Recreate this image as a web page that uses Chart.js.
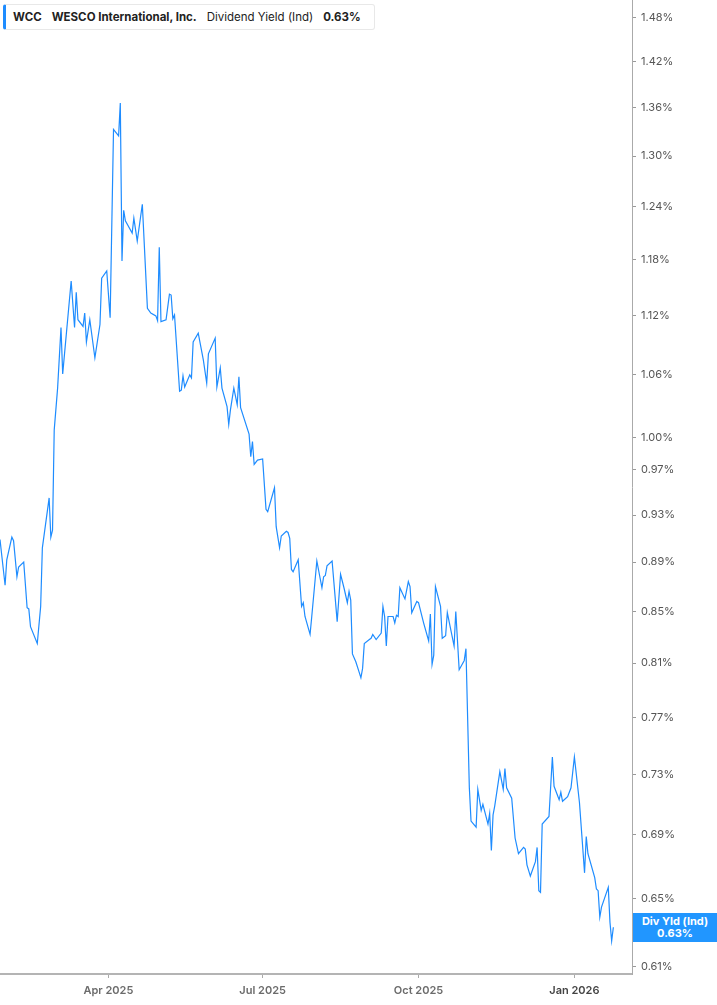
<!DOCTYPE html>
<html>
<head>
<meta charset="utf-8">
<script src="https://cdn.jsdelivr.net/npm/chart.js@4.4.1/dist/chart.umd.min.js"></script>
<style>
  html, body { margin: 0; padding: 0; background: #ffffff; }
  #wrap { position: relative; width: 717px; height: 1005px; }
  #legendBox {
    position: absolute; left: 3px; top: 4px; height: 26px; width: 372px;
    border: 1px solid #e8e8e8; border-left: 3px solid #1e8cff; border-radius: 3px;
    background: #fff; font-family: Inter, "Noto Sans", sans-serif; font-size: 11.5px;
    color: #222; display: flex; align-items: center; padding-left: 7px; box-sizing: border-box;
    white-space: nowrap;
  }
  #legendBox span { margin-right: 10px; }
  #legendBox .b { font-weight: 700; }
  #endLabel {
    position: absolute; left: 633px; width: 84px; height: 29px;
    background: #2196ff; color: #fff; font-family: Inter, "Noto Sans", sans-serif;
    font-size: 11px; font-weight: 700; text-align: center; line-height: 12px;
    display: flex; flex-direction: column; justify-content: center;
  }
</style>
</head>
<body>
<div id="wrap">
  <canvas id="c" width="717" height="1005"></canvas>
  <div id="legendBox"></div>
  <div id="endLabel"></div>
</div>
<script>
// ---- data ----
const ticker = 'WCC';
const companyName = 'WESCO International, Inc.';
const metricName = 'Dividend Yield (Ind)';
const endLabelName = 'Div Yld (Ind)';

const dates = [
  '2025-01-27','2025-01-30','2025-01-31','2025-02-03','2025-02-04','2025-02-06','2025-02-07','2025-02-10',
  '2025-02-12','2025-02-13','2025-02-14','2025-02-18','2025-02-20','2025-02-21','2025-02-25','2025-02-26',
  '2025-02-27','2025-02-28','2025-03-02','2025-03-04','2025-03-05','2025-03-10','2025-03-12','2025-03-13',
  '2025-03-14','2025-03-17','2025-03-18','2025-03-19','2025-03-21','2025-03-24','2025-03-27','2025-03-28',
  '2025-03-31','2025-04-02','2025-04-04','2025-04-07','2025-04-08','2025-04-09','2025-04-10','2025-04-11',
  '2025-04-15','2025-04-16','2025-04-18','2025-04-21','2025-04-24','2025-04-26','2025-04-29','2025-04-30',
  '2025-05-01','2025-05-02','2025-05-05','2025-05-07','2025-05-08','2025-05-09','2025-05-10','2025-05-13',
  '2025-05-14','2025-05-15','2025-05-16','2025-05-19','2025-05-20','2025-05-21','2025-05-24','2025-05-27',
  '2025-05-29','2025-05-30','2025-06-03','2025-06-04','2025-06-06','2025-06-07','2025-06-10','2025-06-11',
  '2025-06-12','2025-06-14','2025-06-16','2025-06-17','2025-06-18','2025-06-23','2025-06-24','2025-06-25',
  '2025-06-26','2025-06-28','2025-07-01','2025-07-03','2025-07-04','2025-07-08','2025-07-09','2025-07-11',
  '2025-07-12','2025-07-15','2025-07-16','2025-07-17','2025-07-18','2025-07-19','2025-07-22','2025-07-24',
  '2025-07-25','2025-07-26','2025-07-29','2025-07-30','2025-08-02','2025-08-05','2025-08-06','2025-08-07',
  '2025-08-08','2025-08-11','2025-08-14','2025-08-16','2025-08-18','2025-08-20','2025-08-21','2025-08-22',
  '2025-08-23','2025-08-25','2025-08-27','2025-08-28','2025-08-29','2025-08-30','2025-09-02','2025-09-03',
  '2025-09-04','2025-09-06','2025-09-09','2025-09-10','2025-09-11','2025-09-12','2025-09-13','2025-09-16',
  '2025-09-17','2025-09-18','2025-09-19','2025-09-20','2025-09-23','2025-09-25','2025-09-26','2025-09-27',
  '2025-09-30','2025-10-01','2025-10-04','2025-10-07','2025-10-08','2025-10-09','2025-10-10','2025-10-11',
  '2025-10-14','2025-10-15','2025-10-17','2025-10-18','2025-10-22','2025-10-23','2025-10-25','2025-10-28',
  '2025-10-29','2025-10-31','2025-11-01','2025-11-04','2025-11-05','2025-11-07','2025-11-08','2025-11-11',
  '2025-11-12','2025-11-13','2025-11-14','2025-11-15','2025-11-18','2025-11-20','2025-11-21','2025-11-22',
  '2025-11-25','2025-11-27','2025-11-29','2025-12-02','2025-12-03','2025-12-04','2025-12-06','2025-12-09',
  '2025-12-10','2025-12-11','2025-12-12','2025-12-13','2025-12-17','2025-12-19','2025-12-20','2025-12-23',
  '2025-12-24','2025-12-25','2025-12-28','2025-12-30','2026-01-01','2026-01-04','2026-01-07','2026-01-08',
  '2026-01-09','2026-01-13','2026-01-14','2026-01-15','2026-01-16','2026-01-17','2026-01-21','2026-01-22',
  '2026-01-23','2026-01-24'
];

const yieldPct = [
  0.909,0.871,0.892,0.911,0.908,0.878,0.886,0.890,
  0.853,0.852,0.838,0.825,0.854,0.902,0.945,0.911,
  0.917,1.007,1.047,1.108,1.061,1.157,1.108,1.145,
  1.116,1.109,1.123,1.093,1.116,1.077,1.111,1.160,
  1.168,1.118,1.333,1.325,1.366,1.179,1.236,1.224,
  1.210,1.227,1.201,1.243,1.128,1.123,1.120,1.115,
  1.194,1.114,1.116,1.143,1.142,1.117,1.121,1.044,
  1.045,1.059,1.048,1.060,1.057,1.093,1.102,1.075,
  1.052,1.081,1.097,1.048,1.067,1.047,1.029,1.012,
  1.026,1.047,1.031,1.058,1.028,1.003,0.982,0.996,
  0.975,0.979,0.980,0.935,0.933,0.954,0.920,0.902,
  0.912,0.916,0.915,0.910,0.884,0.882,0.892,0.854,
  0.857,0.846,0.832,0.846,0.891,0.869,0.878,0.879,
  0.887,0.891,0.842,0.880,0.869,0.857,0.866,0.859,
  0.817,0.811,0.803,0.799,0.806,0.825,0.828,0.829,
  0.832,0.828,0.833,0.854,0.846,0.823,0.846,0.846,
  0.841,0.847,0.846,0.869,0.860,0.874,0.870,0.849,
  0.858,0.857,0.841,0.827,0.848,0.809,0.816,0.870,
  0.854,0.829,0.831,0.849,0.823,0.850,0.805,0.812,
  0.821,0.721,0.699,0.695,0.720,0.706,0.710,0.697,
  0.704,0.680,0.703,0.709,0.732,0.720,0.734,0.721,
  0.714,0.688,0.678,0.682,0.681,0.671,0.664,0.673,
  0.682,0.655,0.654,0.697,0.702,0.742,0.722,0.713,
  0.718,0.712,0.715,0.721,0.742,0.711,0.666,0.689,
  0.678,0.663,0.656,0.655,0.639,0.645,0.657,0.636,
  0.625,0.633
];

const currentYield = 0.63;
const yTickValues = [0.61,0.65,0.69,0.73,0.77,0.81,0.85,0.89,0.93,0.97,1.00,1.06,1.12,1.18,1.24,1.30,1.36,1.42,1.48];
const xTickDates = ['2025-04-01','2025-07-01','2025-10-01','2026-01-01'];
const xTickLabels = ['Apr 2025','Jul 2025','Oct 2025','Jan 2026'];
const xRangeDates = ['2025-01-27','2026-02-04'];
const yRange = [0.606, 1.504];

// ---- helpers ----
const EPOCH = Date.UTC(2025, 0, 1);
function dayOf(s) {
  const p = s.split('-').map(Number);
  return (Date.UTC(p[0], p[1] - 1, p[2]) - EPOCH) / 86400000;
}
const points = dates.map((d, i) => ({ x: dayOf(d), y: yieldPct[i] }));
const xTickDays = xTickDates.map(dayOf);

document.getElementById('legendBox').innerHTML =
  '<span class="b">' + ticker + '</span><span class="b">' + companyName + '</span>' +
  '<span>' + metricName + '</span><span class="b">' + currentYield.toFixed(2) + '%</span>';
document.getElementById('endLabel').innerHTML =
  '<div>' + endLabelName + '</div><div>' + currentYield.toFixed(2) + '%</div>';

const endLabelPlugin = {
  id: 'endLabelPos',
  afterDraw(chart) {
    const y = chart.scales.y.getPixelForValue(yieldPct[yieldPct.length - 1]);
    const el = document.getElementById('endLabel');
    el.style.top = (y - 14.5) + 'px';
    el.style.left = (chart.chartArea.right + 1) + 'px';
    el.style.width = (chart.width - chart.chartArea.right - 1) + 'px';
  }
};

new Chart(document.getElementById('c'), {
  type: 'line',
  data: {
    datasets: [{
      data: points,
      borderColor: '#1e8cff',
      borderWidth: 1.2,
      pointRadius: 0,
      tension: 0,
      fill: false
    }]
  },
  options: {
    responsive: false,
    animation: false,
    layout: { padding: 0 },
    plugins: { legend: { display: false }, tooltip: { enabled: false } },
    scales: {
      x: {
        type: 'linear',
        min: dayOf(xRangeDates[0]),
        max: dayOf(xRangeDates[1]),
        afterBuildTicks(scale) { scale.ticks = xTickDays.map(v => ({ value: v })); },
        afterFit(scale) { scale.height = 31; scale.paddingLeft = 0; scale.paddingRight = 0; },
        grid: { drawOnChartArea: false, tickLength: 4, color: '#aaaaaa', tickWidth: 1 },
        border: { display: true, color: '#b4b4b4', width: 2 },
        ticks: {
          autoSkip: false, maxRotation: 0, padding: 6,
          font: { family: 'Inter', size: 11, weight: '600' },
          color: (ctx) => ctx.index === 3 ? '#444444' : '#6b6b6b',
          callback: (v, i) => xTickLabels[i]
        }
      },
      y: {
        type: 'logarithmic',
        position: 'right',
        min: yRange[0],
        max: yRange[1],
        afterBuildTicks(scale) {
          scale.min = yRange[0];
          scale.max = yRange[1];
          scale.ticks = yTickValues.map(v => ({ value: v }));
        },
        afterFit(scale) { scale.width = 85; scale.paddingTop = 0; scale.paddingBottom = 0; },
        grid: { drawOnChartArea: false, tickLength: 4, color: '#999999' },
        border: { display: true, color: '#aaaaaa', width: 1 },
        ticks: {
          autoSkip: false, padding: 5,
          font: { family: 'Inter', size: 11 },
          color: '#555555',
          callback: (v) => Number(v).toFixed(2) + '%'
        }
      }
    }
  },
  plugins: [endLabelPlugin]
});
</script>
</body>
</html>
